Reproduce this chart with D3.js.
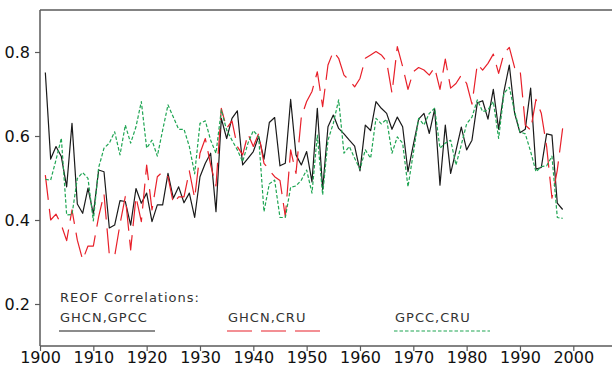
<!DOCTYPE html>
<html>
<head>
<meta charset="utf-8">
<script src="https://cdn.jsdelivr.net/npm/d3@7"></script>
<style>
  html, body { margin: 0; padding: 0; background: #fff; }
  svg { display: block; }
  text { font-family: "DejaVu Sans", sans-serif; }
</style>
</head>
<body>
<svg id="chart" width="612" height="367"></svg>
<script>
// Years 1901-1998
const years = d3.range(1901, 1999);

// REOF correlation between GHCN and GPCC
const ghcnGpcc = [
  0.751, 0.545, 0.575, 0.551, 0.479, 0.630, 0.438, 0.416, 0.476, 0.414,
  0.519, 0.515, 0.381, 0.388, 0.446, 0.444, 0.388, 0.475, 0.440, 0.464,
  0.396, 0.436, 0.436, 0.511, 0.452, 0.479, 0.441, 0.464, 0.406, 0.503,
  0.535, 0.559, 0.420, 0.642, 0.594, 0.642, 0.660, 0.531, 0.547, 0.563,
  0.599, 0.545, 0.632, 0.644, 0.529, 0.535, 0.687, 0.555, 0.531, 0.563,
  0.491, 0.666, 0.473, 0.622, 0.650, 0.618, 0.605, 0.590, 0.576, 0.517,
  0.626, 0.613, 0.682, 0.666, 0.654, 0.616, 0.645, 0.622, 0.515, 0.579,
  0.640, 0.654, 0.606, 0.664, 0.483, 0.626, 0.511, 0.565, 0.621, 0.567,
  0.590, 0.679, 0.684, 0.640, 0.711, 0.616, 0.706, 0.769, 0.654, 0.608,
  0.616, 0.714, 0.521, 0.525, 0.605, 0.602, 0.440, 0.425
];

// REOF correlation between GHCN and CRU
const ghcnCru = [
  0.507, 0.400, 0.414, 0.388, 0.351, 0.424, 0.352, 0.305, 0.338, 0.338,
  0.408, 0.462, 0.317, 0.314, 0.390, 0.456, 0.329, 0.455, 0.396, 0.531,
  0.424, 0.503, 0.515, 0.503, 0.440, 0.455, 0.455, 0.517, 0.452, 0.559,
  0.594, 0.531, 0.481, 0.666, 0.618, 0.636, 0.575, 0.555, 0.605, 0.575,
  0.606, 0.535, 0.519, 0.503, 0.494, 0.408, 0.567, 0.511, 0.645, 0.682,
  0.706, 0.753, 0.670, 0.769, 0.801, 0.785, 0.745, 0.733, 0.717, 0.737,
  0.785, 0.793, 0.801, 0.793, 0.777, 0.702, 0.813, 0.765, 0.711, 0.753,
  0.763, 0.757, 0.745, 0.763, 0.711, 0.783, 0.714, 0.725, 0.745, 0.725,
  0.676, 0.771, 0.757, 0.773, 0.795, 0.749, 0.797, 0.811, 0.763, 0.761,
  0.626, 0.614, 0.687, 0.654, 0.575, 0.452, 0.519, 0.618
];

// REOF correlation between GPCC and CRU
const gpccCru = [
  0.497, 0.495, 0.543, 0.595, 0.412, 0.413, 0.499, 0.513, 0.499, 0.398,
  0.525, 0.571, 0.583, 0.610, 0.555, 0.626, 0.583, 0.622, 0.682, 0.571,
  0.590, 0.552, 0.614, 0.674, 0.645, 0.616, 0.616, 0.575, 0.510, 0.630,
  0.636, 0.590, 0.559, 0.662, 0.614, 0.590, 0.567, 0.539, 0.583, 0.613,
  0.598, 0.420, 0.486, 0.495, 0.406, 0.406, 0.478, 0.481, 0.495, 0.519,
  0.464, 0.602, 0.460, 0.590, 0.630, 0.686, 0.559, 0.575, 0.547, 0.521,
  0.567, 0.547, 0.642, 0.629, 0.640, 0.559, 0.598, 0.583, 0.479, 0.559,
  0.642, 0.626, 0.654, 0.666, 0.571, 0.583, 0.590, 0.531, 0.579, 0.629,
  0.645, 0.686, 0.658, 0.662, 0.682, 0.594, 0.702, 0.716, 0.658, 0.610,
  0.605, 0.563, 0.515, 0.527, 0.529, 0.552, 0.406, 0.404
];

const xTicks = d3.range(1900, 2001, 10);
const yTicks = [0.2, 0.4, 0.6, 0.8];

const series = [
  { name: "GHCN,GPCC", values: ghcnGpcc, color: "#1a1a1a", dash: null, lx: 60 },
  { name: "GHCN,CRU", values: ghcnCru, color: "#e8202a", dash: "25,9", lx: 228 },
  { name: "GPCC,CRU", values: gpccCru, color: "#1fa553", dash: "3.5,2", lx: 395 }
];

const svg = d3.select("#chart");
const W = 612;
const mLeft = 40, mTop = 10, mBottom = 346;

const x = d3.scaleLinear().domain([1900, 2000]).range([mLeft, 573.3]);
const y = d3.scaleLinear().domain([0.1, 0.9]).range([mBottom, mTop]);

// frame: left axis, top border, bottom axis
const axisColor = "#5a5a5a";
svg.append("line").attr("x1", mLeft).attr("x2", W).attr("y1", mTop).attr("y2", mTop)
  .attr("stroke", axisColor).attr("stroke-width", 1.5);

const xAxis = svg.append("g").attr("transform", `translate(0,${mBottom})`)
  .call(d3.axisBottom(x).tickValues(xTicks).tickFormat(d3.format("d"))
    .tickSize(5).tickSizeOuter(0));
xAxis.select(".domain").remove();
xAxis.append("line").attr("x1", mLeft).attr("x2", W).attr("y1", 0).attr("y2", 0)
  .attr("stroke", axisColor).attr("stroke-width", 1.5);
xAxis.selectAll(".tick line").attr("stroke", axisColor).attr("stroke-width", 1.2);
xAxis.selectAll(".tick text").attr("font-size", 16).attr("fill", "#111")
  .attr("font-family", "DejaVu Sans, sans-serif").attr("dy", "0.68em").attr("y", 6);

const yAxis = svg.append("g").attr("transform", `translate(${mLeft},0)`)
  .call(d3.axisLeft(y).tickValues(yTicks).tickFormat(d3.format(".1f"))
    .tickSize(5).tickSizeOuter(0));
yAxis.select(".domain").remove();
yAxis.append("line").attr("x1", 0).attr("x2", 0).attr("y1", mTop).attr("y2", mBottom)
  .attr("stroke", axisColor).attr("stroke-width", 1.5);
yAxis.selectAll(".tick line").attr("stroke", axisColor).attr("stroke-width", 1.2);
yAxis.selectAll(".tick text").attr("font-size", 16).attr("fill", "#111")
  .attr("font-family", "DejaVu Sans, sans-serif").attr("x", -10);

// correlation curves
const line = d3.line().x((d, i) => x(years[i])).y(d => y(d));
series.forEach(s => {
  svg.append("path").datum(s.values)
    .attr("d", line)
    .attr("fill", "none")
    .attr("stroke", s.color)
    .attr("stroke-width", 1.2)
    .attr("stroke-linejoin", "round")
    .attr("stroke-dasharray", s.dash);
});

// legend
const legend = svg.append("g").attr("fill", "#333").attr("font-size", 13)
  .attr("letter-spacing", 1);
legend.append("text").attr("x", 60).attr("y", 302).text("REOF Correlations:");
series.forEach(s => {
  legend.append("text").attr("x", s.lx).attr("y", 322).text(s.name);
  svg.append("line")
    .attr("x1", s.lx - 1).attr("x2", s.lx + 95)
    .attr("y1", 331).attr("y2", 331)
    .attr("stroke", s.color).attr("stroke-width", 1.2)
    .attr("stroke-dasharray", s.dash);
});
</script>
</body>
</html>
